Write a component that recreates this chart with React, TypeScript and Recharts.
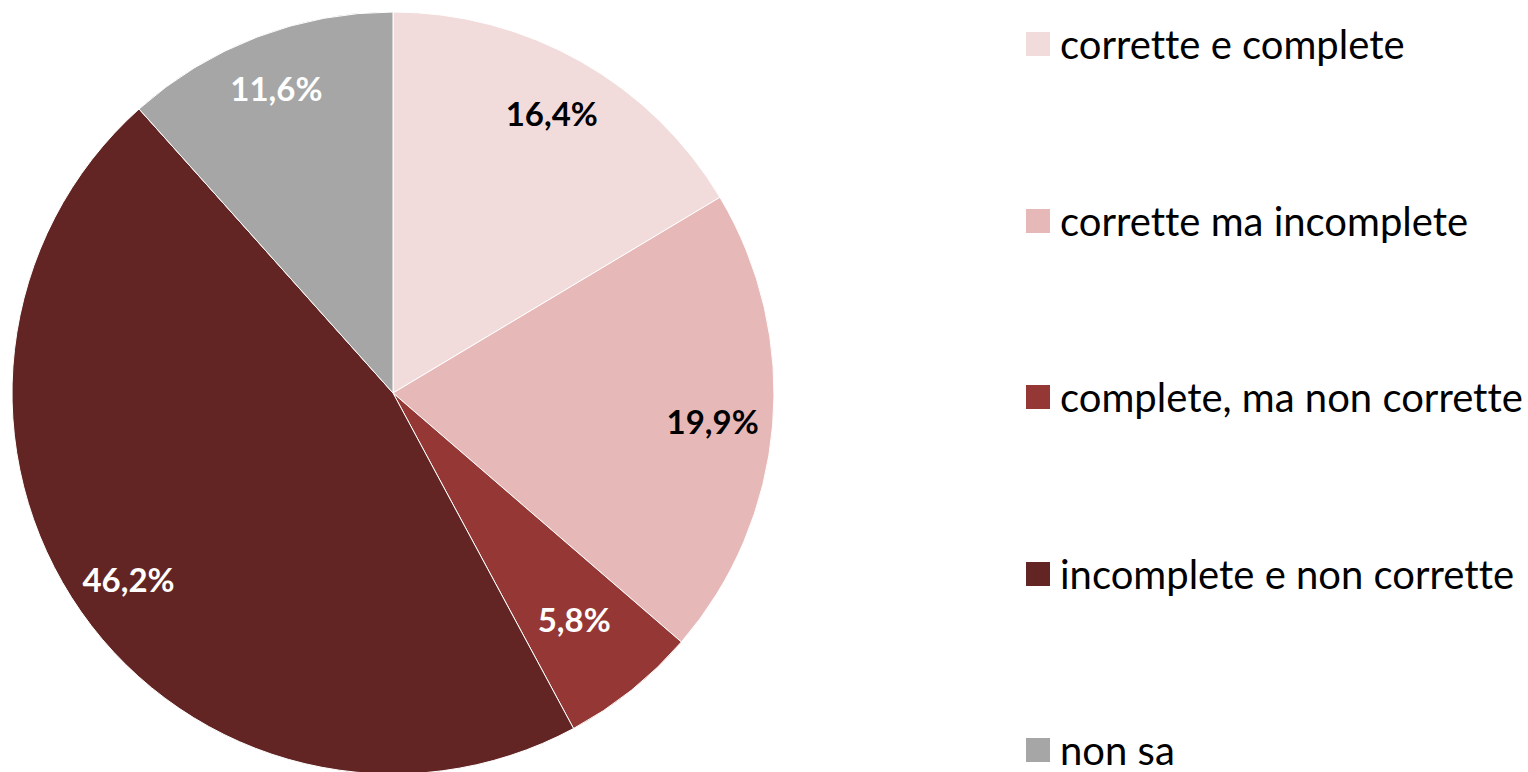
import { PieChart, Pie, Cell, Legend } from 'recharts';

const categories = [
  'corrette e complete',
  'corrette ma incomplete',
  'complete, ma non corrette',
  'incomplete e non corrette',
  'non sa',
];
const shares = [16.4, 19.9, 5.8, 46.2, 11.6];

const colors = ['#F2DCDB', '#E6B9B8', '#953735', '#632523', '#A6A6A6'];
const labelColors = ['#000000', '#000000', '#FFFFFF', '#FFFFFF', '#FFFFFF'];
// distance of each percent label from the centre, as a share of the radius
const labelDist = [0.845, 0.842, 0.76, 0.848, 0.858];

const RADIAN = Math.PI / 180;
const FONT = 'Lato, "Open Sans", sans-serif';

const data = categories.map((name, i) => ({ name, value: shares[i] }));

const renderLabel = (props: any) => {
  const { cx, cy, midAngle, outerRadius, index } = props;
  const r = outerRadius * labelDist[index];
  const x = cx + r * Math.cos(-midAngle * RADIAN);
  const y = cy + r * Math.sin(-midAngle * RADIAN);
  return (
    <text
      x={x}
      y={y}
      fill={labelColors[index]}
      textAnchor="middle"
      dominantBaseline="central"
      fontFamily={FONT}
      fontWeight={700}
      fontSize={33}
      style={{ fontVariantLigatures: 'none' }}
    >
      {shares[index].toFixed(1).replace('.', ',')}%
    </text>
  );
};

const renderLegend = () => (
  <div style={{ position: 'relative', width: 500, height: 772 }}>
    {categories.map((name, i) => (
      <div
        key={name}
        style={{
          position: 'absolute',
          left: 0,
          top: 44 + i * 176.5 - 25,
          height: 50,
          display: 'flex',
          alignItems: 'center',
          fontFamily: FONT,
          fontSize: 40,
          fontVariantLigatures: 'none',
          color: '#000',
          whiteSpace: 'nowrap',
        }}
      >
        <span
          style={{
            display: 'inline-block',
            width: 24,
            height: 24,
            background: colors[i],
            marginRight: 10,
          }}
        />
        {name}
      </div>
    ))}
  </div>
);

export default function App() {
  return (
    <div style={{ width: 1528, height: 772, background: '#fff' }}>
      <style>{'body{margin:0}'}</style>
      <PieChart width={1528} height={772} margin={{ top: 0, right: 0, bottom: 0, left: 0 }}>
        <Pie
          data={data}
          dataKey="value"
          nameKey="name"
          cx={393}
          cy={393}
          outerRadius={381}
          startAngle={90}
          endAngle={-270}
          stroke="#ffffff"
          strokeWidth={1}
          label={renderLabel}
          labelLine={false}
          isAnimationActive={false}
        >
          {data.map((d, i) => (
            <Cell key={d.name} fill={colors[i]} />
          ))}
        </Pie>
        <Legend
          content={renderLegend}
          wrapperStyle={{ position: 'absolute', left: 1026, top: 0, width: 500, height: 772 }}
        />
      </PieChart>
    </div>
  );
}
